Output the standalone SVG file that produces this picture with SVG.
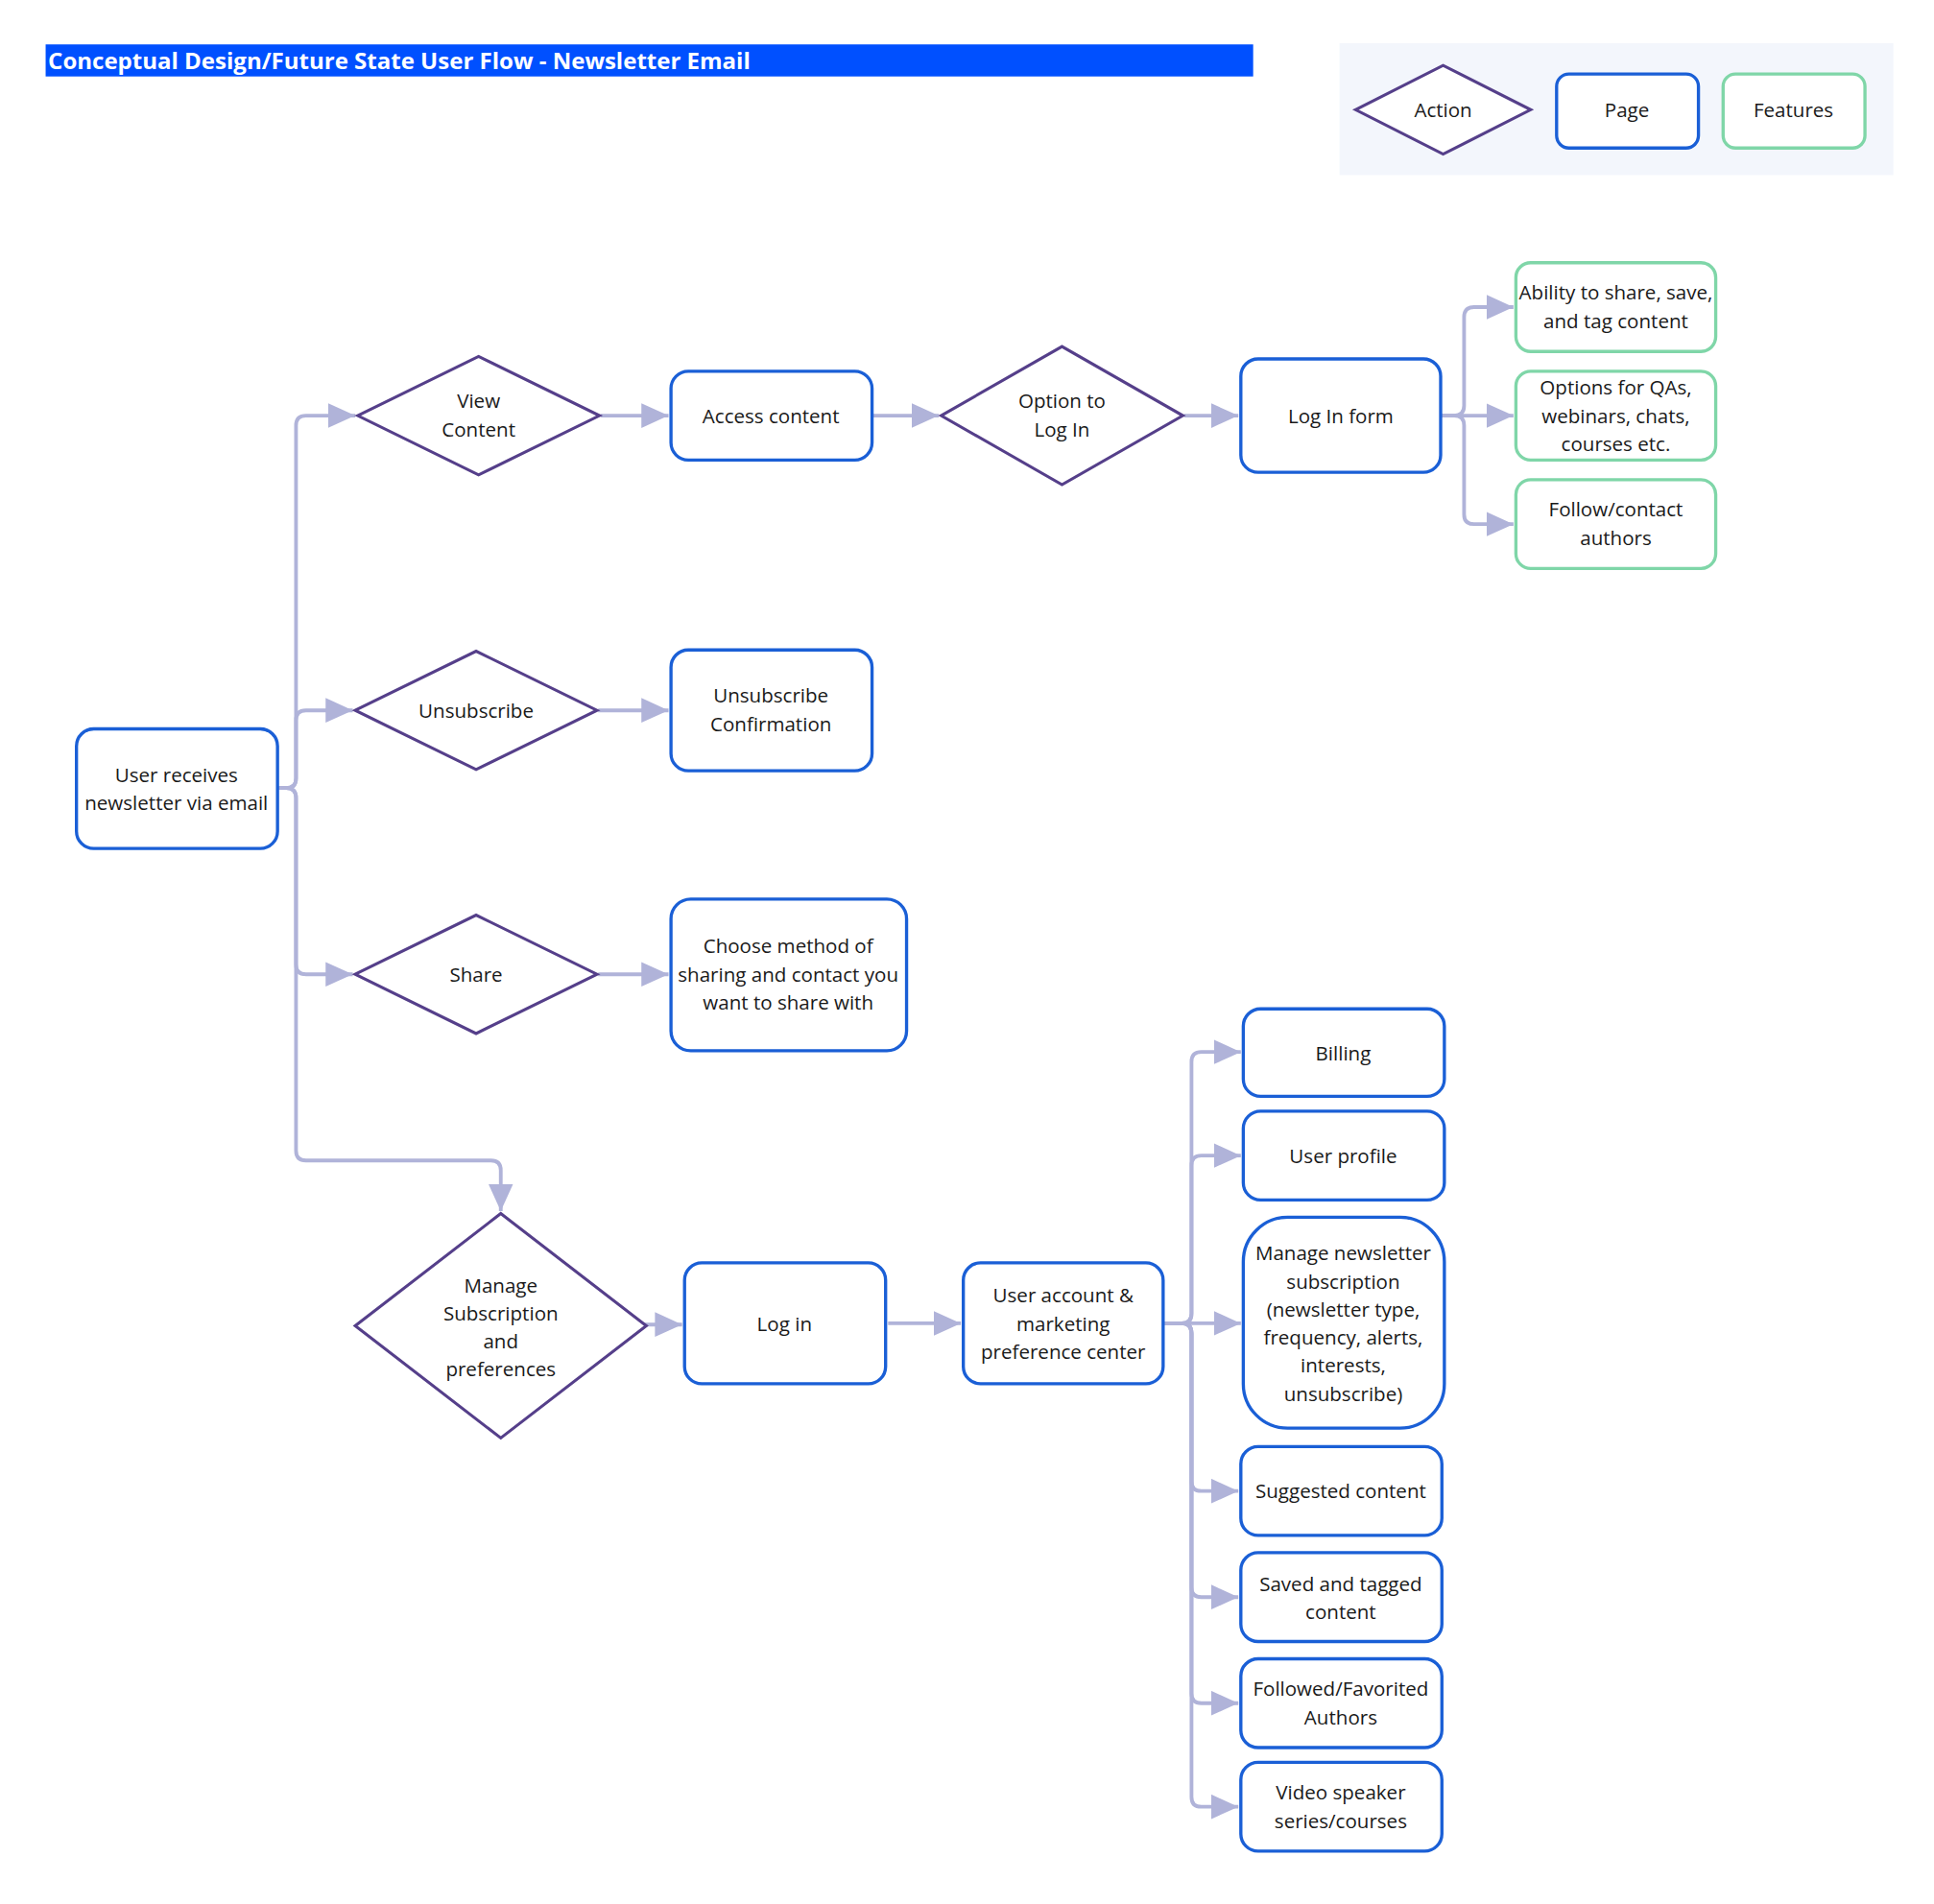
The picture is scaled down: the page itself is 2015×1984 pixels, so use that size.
<svg xmlns="http://www.w3.org/2000/svg" width="2015" height="1984" viewBox="0 0 2015 1984">
<style>
text{font-family:"Open Sans","Liberation Sans",sans-serif;font-size:16px;fill:#1a1a1a;text-anchor:middle}
.pg{fill:#fff;stroke:#1a5fd6;stroke-width:2.6}
.ft{fill:#fff;stroke:#7fd6a8;stroke-width:2.6}
.ac{fill:#fff;stroke:#553f8a;stroke-width:2.4}
.c{fill:none;stroke:#b0b3d9;stroke-width:3;marker-end:url(#ah)}
</style>
<defs><marker id="ah" markerUnits="userSpaceOnUse" markerWidth="24" markerHeight="22" refX="22" refY="10" orient="auto"><path d="M0,0 L22,10 L0,20 z" fill="#b0b3d9"/></marker></defs>
<rect width="2015" height="1984" fill="#fff"/>
<g transform="scale(1.2851)">
<g id="title"><rect x="37" y="36" width="979" height="26" fill="#0050ff"/><text x="39" y="56" style="font-weight:bold;font-size:18.7px;fill:#fff;text-anchor:start">Conceptual Design/Future State User Flow - Newsletter Email</text></g>
<g id="legend"><rect x="1086" y="35" width="449" height="107" fill="#f3f6fc"/>
<polygon class="ac" points="1099,89 1170,53 1241,89 1170,125"/><text x="1170" y="95">Action</text>
<rect class="pg" x="1262" y="60" width="115" height="60" rx="10"/><text x="1319" y="95">Page</text>
<rect class="ft" x="1397" y="60" width="115" height="60" rx="10"/><text x="1454" y="95">Features</text></g>
<g id="connectors">
<path class="c" d="M225,639 H232 Q240,639 240,631 V345 Q240,337 248,337 H288"/>
<path class="c" d="M225,639 H232 Q240,639 240,631 V584 Q240,576 248,576 H286"/>
<path class="c" d="M225,639 H232 Q240,639 240,647 V782 Q240,790 248,790 H286"/>
<path class="c" d="M225,639 H232 Q240,639 240,647 V933 Q240,941 248,941 H398 Q406,941 406,949 V982"/>
<path class="c" d="M487,337 H542"/>
<path class="c" d="M707,337 H761"/>
<path class="c" d="M960,337 H1004"/>
<path class="c" d="M485,576 H542"/>
<path class="c" d="M485,790 H542"/>
<path class="c" d="M1168,337 H1179 Q1187,337 1187,329 V257 Q1187,249 1195,249 H1227"/>
<path class="c" d="M1168,337 H1227"/>
<path class="c" d="M1168,337 H1179 Q1187,337 1187,345 V417 Q1187,425 1195,425 H1227"/>
<path class="c" d="M514,1074 H553"/>
<path class="c" d="M720,1073 H779"/>
<path class="c" d="M943,1073 H958 Q966,1073 966,1065 V861 Q966,853 974,853 H1006"/>
<path class="c" d="M943,1073 H958 Q966,1073 966,1065 V945 Q966,937 974,937 H1006"/>
<path class="c" d="M943,1073 H1006"/>
<path class="c" d="M943,1073 H958 Q966,1073 966,1081 V1201 Q966,1209 974,1209 H1004"/>
<path class="c" d="M943,1073 H958 Q966,1073 966,1081 V1287 Q966,1295 974,1295 H1004"/>
<path class="c" d="M943,1073 H958 Q966,1073 966,1081 V1373 Q966,1381 974,1381 H1004"/>
<path class="c" d="M943,1073 H958 Q966,1073 966,1081 V1457 Q966,1465 974,1465 H1004"/>
</g>
<g id="n-user"><rect class="pg" x="62" y="591" width="163" height="97" rx="14"/><text x="143" y="634">User receives</text><text x="143" y="657">newsletter via email</text></g>
<g id="n-view"><polygon class="ac" points="290,337 388,289 486,337 388,385"/><text x="388" y="331">View</text><text x="388" y="354">Content</text></g>
<g id="n-access"><rect class="pg" x="544" y="301" width="163" height="72" rx="14"/><text x="625" y="343">Access content</text></g>
<g id="n-option"><polygon class="ac" points="763,337 861,281 959,337 861,393"/><text x="861" y="331">Option to</text><text x="861" y="354">Log In</text></g>
<g id="n-loginform"><rect class="pg" x="1006" y="291" width="162" height="92" rx="14"/><text x="1087" y="343">Log In form</text></g>
<g id="n-ability"><rect class="ft" x="1229" y="213" width="162" height="72" rx="12"/><text x="1310" y="243">Ability to share, save,</text><text x="1310" y="266">and tag content</text></g>
<g id="n-options"><rect class="ft" x="1229" y="301" width="162" height="72" rx="12"/><text x="1310" y="320">Options for QAs,</text><text x="1310" y="343">webinars, chats,</text><text x="1310" y="366">courses etc.</text></g>
<g id="n-follow"><rect class="ft" x="1229" y="389" width="162" height="72" rx="12"/><text x="1310" y="419">Follow/contact</text><text x="1310" y="442">authors</text></g>
<g id="n-unsub"><polygon class="ac" points="288,576 386,528 484,576 386,624"/><text x="386" y="582">Unsubscribe</text></g>
<g id="n-unsubconf"><rect class="pg" x="544" y="527" width="163" height="98" rx="14"/><text x="625" y="570">Unsubscribe</text><text x="625" y="593">Confirmation</text></g>
<g id="n-share"><polygon class="ac" points="288,790 386,742 484,790 386,838"/><text x="386" y="796">Share</text></g>
<g id="n-choose"><rect class="pg" x="544" y="729" width="191" height="123" rx="16"/><text x="639" y="773">Choose method of</text><text x="639" y="796">sharing and contact you</text><text x="639" y="819">want to share with</text></g>
<g id="n-manage"><polygon class="ac" points="288,1075 406,984 524,1075 406,1166"/><text x="406" y="1048">Manage</text><text x="406" y="1071">Subscription</text><text x="406" y="1093">and</text><text x="406" y="1116">preferences</text></g>
<g id="n-login"><rect class="pg" x="555" y="1024" width="163" height="98" rx="14"/><text x="636" y="1079">Log in</text></g>
<g id="n-account"><rect class="pg" x="781" y="1024" width="162" height="98" rx="14"/><text x="862" y="1056">User account &amp;</text><text x="862" y="1079">marketing</text><text x="862" y="1102">preference center</text></g>
<g id="n-billing"><rect class="pg" x="1008" y="818" width="163" height="71" rx="14"/><text x="1089" y="860">Billing</text></g>
<g id="n-profile"><rect class="pg" x="1008" y="901" width="163" height="72" rx="14"/><text x="1089" y="943">User profile</text></g>
<g id="n-newsletter"><rect class="pg" x="1008" y="987" width="163" height="171" rx="36"/><text x="1089" y="1022">Manage newsletter</text><text x="1089" y="1045">subscription</text><text x="1089" y="1068">(newsletter type,</text><text x="1089" y="1090">frequency, alerts,</text><text x="1089" y="1113">interests,</text><text x="1089" y="1136">unsubscribe)</text></g>
<g id="n-suggested"><rect class="pg" x="1006" y="1173" width="163" height="72" rx="14"/><text x="1087" y="1215">Suggested content</text></g>
<g id="n-saved"><rect class="pg" x="1006" y="1259" width="163" height="72" rx="14"/><text x="1087" y="1290">Saved and tagged</text><text x="1087" y="1313">content</text></g>
<g id="n-followed"><rect class="pg" x="1006" y="1345" width="163" height="72" rx="14"/><text x="1087" y="1375">Followed/Favorited</text><text x="1087" y="1398">Authors</text></g>
<g id="n-video"><rect class="pg" x="1006" y="1429" width="163" height="72" rx="14"/><text x="1087" y="1459">Video speaker</text><text x="1087" y="1482">series/courses</text></g>
</g>
</svg>
